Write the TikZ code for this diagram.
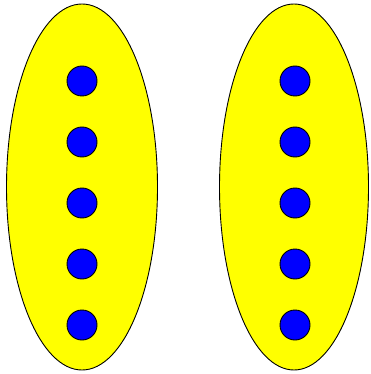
\documentclass[tikz,border=0pt]{standalone}
\usepackage{tikz}
\usetikzlibrary{shapes.geometric}
\definecolor{ink}{RGB}{0,0,0}
\definecolor{setfill}{RGB}{255,255,0}
\definecolor{dotfill}{RGB}{0,0,255}
\tikzset{
  setbox/.style={ellipse,draw=ink,line width=0.9pt,fill=setfill,minimum width=151pt,minimum height=366pt,inner sep=0pt},
  elem/.style={circle,draw=ink,line width=0.9pt,fill=dotfill,minimum size=30pt,inner sep=0pt}
}
\begin{document}
\begin{tikzpicture}[x=1pt,y=-1pt]
  \useasboundingbox (0,0) rectangle (370,374);
  \node[setbox] (left) at (82,187) {};
  \node[setbox,minimum width=149pt] (right) at (294,187) {};
  \foreach \i/\yy in {1/81,2/142,3/203,4/264,5/325}{
    \node[elem] (l\i) at (82,\yy) {};
    \node[elem] (r\i) at (295,\yy) {};
  }
\end{tikzpicture}
\end{document}
